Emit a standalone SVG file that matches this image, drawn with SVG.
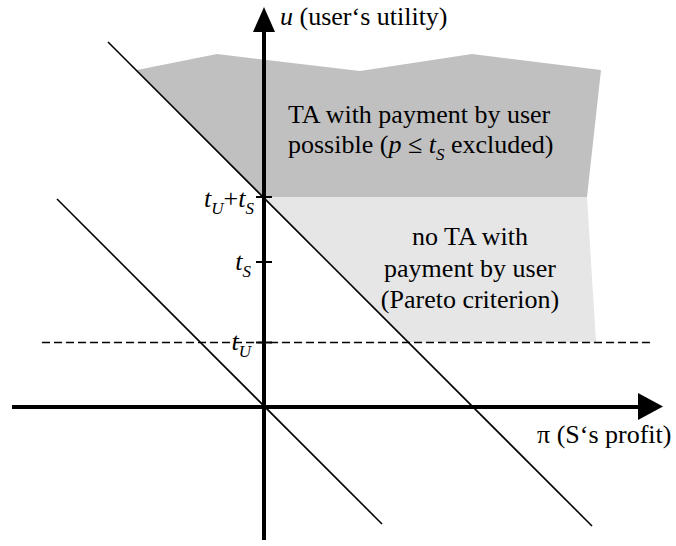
<svg xmlns="http://www.w3.org/2000/svg" width="676" height="546" viewBox="0 0 676 546">
  <style>
    text { font-family: "Liberation Serif", "Times New Roman", serif; font-size: 26px; fill: #000; }
    .it { font-style: italic; }
    .sub { font-style: italic; font-size: 17px; }
    .axis { stroke: #000; stroke-width: 4; fill: none; }
    .tick { stroke: #000; stroke-width: 2; fill: none; }
    .diag { stroke: #000; stroke-width: 1.6; fill: none; }
    .dash { stroke: #000; stroke-width: 1.4; stroke-dasharray: 8 4; fill: none; }
  </style>

  <!-- shaded regions -->
  <g id="region-payment-possible">
    <polygon points="137,70 217,54 360,71 472,54 601,70 587,197 264,197" fill="#c0c0c0"/>
    <text x="288" y="123">TA with payment by user</text>
    <text x="288" y="153">possible (<tspan class="it">p</tspan> ≤ <tspan class="it">t</tspan><tspan class="sub" dy="7">S</tspan><tspan dy="-7"> excluded)</tspan></text>
  </g>
  <g id="region-pareto">
    <polygon points="264,197 587,197 596,342 409,342" fill="#e6e6e6"/>
    <text x="470" y="245" text-anchor="middle">no TA with</text>
    <text x="470" y="277" text-anchor="middle">payment by user</text>
    <text x="470" y="308" text-anchor="middle">(Pareto criterion)</text>
  </g>

  <!-- lines of the plot -->
  <g id="connectors">
    <line class="dash" x1="42" y1="342.5" x2="650" y2="342.5"/>
    <line class="diag" x1="108" y1="42" x2="592" y2="526"/>
    <line class="diag" x1="57" y1="199" x2="382" y2="524"/>
    <line class="axis" x1="264" y1="30" x2="264" y2="540"/>
    <polygon points="264,7 253,32 275,32" fill="#000"/>
    <line class="axis" x1="12" y1="407" x2="640" y2="407"/>
    <polygon points="663,406.5 638,393 638,420" fill="#000"/>
    <line class="tick" x1="256" y1="197" x2="272" y2="197"/>
    <line class="tick" x1="256" y1="262" x2="272" y2="262"/>
    <line class="tick" x1="256" y1="342.5" x2="272" y2="342.5"/>
  </g>

  <!-- axis labels -->
  <g id="label-u">
    <text x="280" y="25"><tspan class="it">u</tspan> (user‘s utility)</text>
  </g>
  <g id="label-pi">
    <text x="537" y="443">π (S‘s profit)</text>
  </g>
  <g id="label-tu-ts">
    <text x="254" y="207" text-anchor="end"><tspan class="it">t</tspan><tspan class="sub" dy="7">U</tspan><tspan dy="-7">+</tspan><tspan class="it">t</tspan><tspan class="sub" dy="7">S</tspan></text>
  </g>
  <g id="label-ts">
    <text x="251" y="270" text-anchor="end"><tspan class="it">t</tspan><tspan class="sub" dy="7">S</tspan></text>
  </g>
  <g id="label-tu">
    <text x="251" y="350" text-anchor="end"><tspan class="it">t</tspan><tspan class="sub" dy="7">U</tspan></text>
  </g>
</svg>
